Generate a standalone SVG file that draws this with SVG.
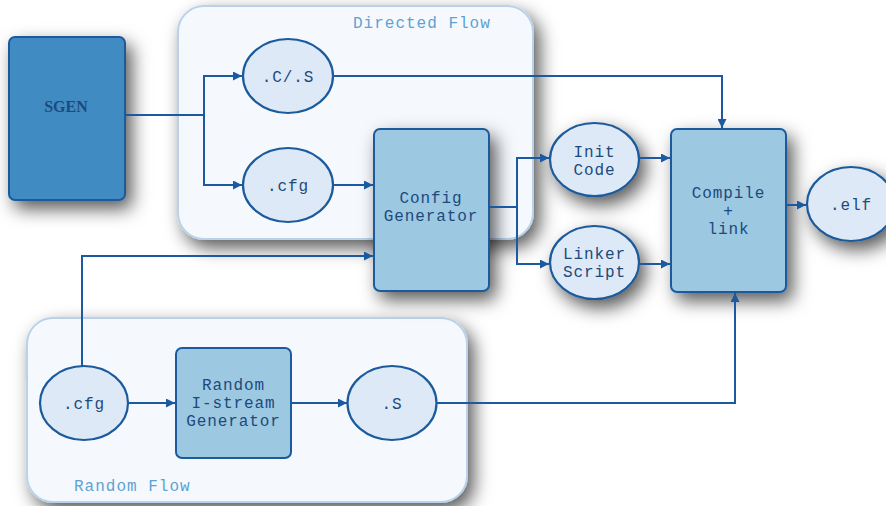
<svg xmlns="http://www.w3.org/2000/svg" width="886" height="506" viewBox="0 0 886 506">
<style>
.cont{fill:#f5f9fe;stroke:#b9d1ea;stroke-width:2}
.box{fill:#9cc8e1;stroke:#1b5a9c;stroke-width:2}
.ell{fill:#dde9f6;stroke:#1b5a9c;stroke-width:2.2}
.t{font-family:"Liberation Mono","Courier New",monospace;font-size:16px;letter-spacing:0.9px;fill:#1d4a7c;text-anchor:middle}
.title{font-family:"Liberation Mono","Courier New",monospace;font-size:16px;letter-spacing:1px;fill:#5ea2d2}
.conn path{fill:none;stroke:#1b5aa0;stroke-width:2}
</style>
<defs>
<filter id="sh" x="-30%" y="-30%" width="170%" height="170%">
<feDropShadow dx="6" dy="8" stdDeviation="9" flood-color="#000" flood-opacity="0.65"/>
</filter>
<marker id="ar" viewBox="0 0 10 10" refX="10" refY="5" markerWidth="9" markerHeight="9" markerUnits="userSpaceOnUse" orient="auto">
<path d="M0,0 L10,5 L0,10 z" fill="#1b5aa0"/>
</marker>
</defs>
<rect width="886" height="506" fill="#ffffff"/>
<g id="directed-flow">
<rect class="cont" x="178" y="6" width="355" height="233" rx="26" filter="url(#sh)"/>
<text class="title" x="353" y="28">Directed Flow</text>
</g>
<g id="random-flow">
<rect class="cont" x="27" y="318" width="440" height="184" rx="26" filter="url(#sh)"/>
<text class="title" x="74" y="491">Random Flow</text>
</g>
<g id="sgen">
<rect x="9" y="37" width="116" height="163" rx="6" fill="#3f8bc2" stroke="#1b5a9c" stroke-width="2" filter="url(#sh)"/>
<text x="66" y="112" font-family="'Liberation Serif','Times New Roman',serif" font-weight="bold" font-size="16" fill="#1d4a7c" text-anchor="middle">SGEN</text>
</g>
<g id="cs">
<ellipse class="ell" cx="288" cy="76" rx="45" ry="37"/>
<text class="t" x="288" y="82">.C/.S</text>
</g>
<g id="cfg-directed">
<ellipse class="ell" cx="288" cy="185" rx="45" ry="37"/>
<text class="t" x="288" y="191">.cfg</text>
</g>
<g id="config-generator">
<rect class="box" x="374" y="129" width="115" height="162" rx="6" filter="url(#sh)"/>
<text class="t" x="431" y="203">Config</text>
<text class="t" x="431" y="221">Generator</text>
</g>
<g id="init-code">
<ellipse class="ell" cx="594.5" cy="159.5" rx="44.5" ry="36.5" filter="url(#sh)"/>
<text class="t" x="594.5" y="157">Init</text>
<text class="t" x="594.5" y="175">Code</text>
</g>
<g id="linker-script">
<ellipse class="ell" cx="594.5" cy="262.5" rx="44.5" ry="36.5" filter="url(#sh)"/>
<text class="t" x="594.5" y="259">Linker</text>
<text class="t" x="594.5" y="277">Script</text>
</g>
<g id="compile-link">
<rect class="box" x="671" y="129" width="115" height="163" rx="6" filter="url(#sh)"/>
<text class="t" x="728.5" y="198">Compile</text>
<text class="t" x="728.5" y="216">+</text>
<text class="t" x="728.5" y="234">link</text>
</g>
<g id="elf">
<ellipse class="ell" cx="851" cy="204" rx="44" ry="37" filter="url(#sh)"/>
<text class="t" x="851" y="210">.elf</text>
</g>
<g id="cfg-random">
<ellipse class="ell" cx="84" cy="403" rx="44" ry="37"/>
<text class="t" x="84" y="409">.cfg</text>
</g>
<g id="random-istream-generator">
<rect class="box" x="176" y="348" width="115" height="110" rx="6"/>
<text class="t" x="233.5" y="390">Random</text>
<text class="t" x="233.5" y="408">I-stream</text>
<text class="t" x="233.5" y="426">Generator</text>
</g>
<g id="s">
<ellipse class="ell" cx="392" cy="403" rx="44.5" ry="37"/>
<text class="t" x="392" y="409">.S</text>
</g>
<g class="conn" id="connectors">
<path d="M125,115 H204"/>
<path d="M204,115 V76 H242" marker-end="url(#ar)"/>
<path d="M204,115 V185 H242" marker-end="url(#ar)"/>
<path d="M333,76 H722 V128" marker-end="url(#ar)"/>
<path d="M333,185 H373" marker-end="url(#ar)"/>
<path d="M489,207 H517"/>
<path d="M517,207 V158 H549" marker-end="url(#ar)"/>
<path d="M517,207 V264 H549" marker-end="url(#ar)"/>
<path d="M639,158 H670" marker-end="url(#ar)"/>
<path d="M639,264 H670" marker-end="url(#ar)"/>
<path d="M786,205 H806" marker-end="url(#ar)"/>
<path d="M82,366 V256 H373" marker-end="url(#ar)"/>
<path d="M128,403 H175" marker-end="url(#ar)"/>
<path d="M291,403 H347" marker-end="url(#ar)"/>
<path d="M436,403 H735 V293" marker-end="url(#ar)"/>
</g>
</svg>
